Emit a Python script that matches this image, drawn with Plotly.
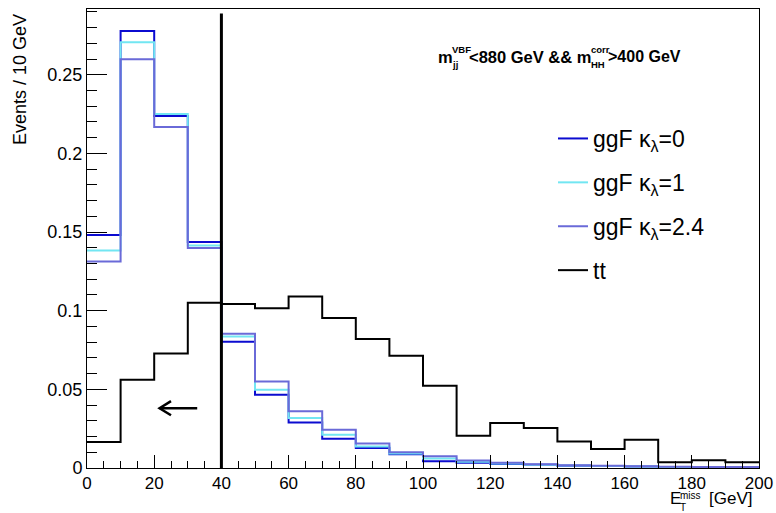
import plotly.graph_objects as go

# ---------------- data ----------------
bin_edges = list(range(0, 210, 10))
ggF_k0 = [0.1482, 0.2778, 0.2238, 0.1436, 0.0802, 0.0466, 0.0290, 0.0186, 0.0127, 0.0088,
          0.0043, 0.0033, 0.0026, 0.0020, 0.0015, 0.0012, 0.0010, 0.0007, 0.0006, 0.0005]
ggF_k1 = [0.1383, 0.2706, 0.2251, 0.1415, 0.0836, 0.0497, 0.0318, 0.0212, 0.0137, 0.0092,
          0.0060, 0.0040, 0.0028, 0.0021, 0.0016, 0.0012, 0.0010, 0.0007, 0.0006, 0.0005]
ggF_k24 = [0.1313, 0.2598, 0.2168, 0.1398, 0.0853, 0.0550, 0.0360, 0.0243, 0.0155, 0.0100,
           0.0075, 0.0048, 0.0034, 0.0024, 0.0018, 0.0014, 0.0011, 0.0008, 0.0007, 0.0006]
tt = [0.0165, 0.0561, 0.0728, 0.1050, 0.1042, 0.1016, 0.1090, 0.0953, 0.0820, 0.0713,
      0.0523, 0.0205, 0.0286, 0.0254, 0.0169, 0.0121, 0.0180, 0.0036, 0.0050, 0.0037]
series_names = ["ggF κ<sub>λ</sub>=0", "ggF κ<sub>λ</sub>=1", "ggF κ<sub>λ</sub>=2.4", "tt"]
series_colors = ["#0b0bd0", "#72e6f2", "#6a6ad8", "#000000"]
cut_value = 40
x_ticks = [0, 20, 40, 60, 80, 100, 120, 140, 160, 180, 200]

W, H = 776, 513
L, R, T, B = 87, 759, 9, 468
FONT = "Liberation Sans, Arial, Helvetica, sans-serif"


def pxx(p):
    return (p - L) / (R - L)


def pxy(p):
    return (B - p) / (B - T)


def step_xy(vals):
    xs = bin_edges[:-1] + [bin_edges[-1]]
    ys = list(vals) + [vals[-1]]
    return xs, ys


fig = go.Figure()
for vals, name, col in zip([ggF_k0, ggF_k1, ggF_k24, tt], series_names, series_colors):
    xs, ys = step_xy(vals)
    fig.add_trace(go.Scatter(x=xs, y=ys, mode="lines", line=dict(shape="hv", color=col, width=2),
                             name=name, legendgroup=name))

# cut line
fig.add_shape(type="line", xref="x", yref="y", x0=cut_value, x1=cut_value, y0=0, y1=0.289,
              line=dict(color="black", width=3))
# arrow (pointing left)
ay = 0.038
fig.add_shape(type="line", xref="x", yref="y", x0=32.8, x1=21.6, y0=ay, y1=ay,
              line=dict(color="black", width=2.5))
fig.add_shape(type="path", xref="x", yref="y",
              path=f"M 25.0 {ay+0.0045} L 21.6 {ay} L 25.0 {ay-0.0045}",
              line=dict(color="black", width=2.5))

ann = []


def text(s, xp, yp, size, bold=False, angle=0, xanchor="left"):
    if bold:
        s = "<b>" + s + "</b>"
    ann.append(dict(text=s, x=pxx(xp), y=pxy(yp), xref="paper", yref="paper", showarrow=False,
                    xanchor=xanchor, yanchor="middle", textangle=angle,
                    font=dict(family=FONT, size=size, color="black")))


# cut text
text("m", 436, 57, 16.5, True)
text("VBF", 450, 50, 9.5, True)
text("jj", 450, 64, 9.5, True)
text("&lt;880 GeV &amp;&amp; m", 467, 57, 16.5, True)
text("corr", 589, 50, 9.5, True)
text("HH", 589, 64, 9.5, True)
text("&gt;400 GeV", 606, 57, 16, True)

# axis titles
text("E", 668, 499, 17)
text("miss", 678, 496, 10)
text("T", 678, 507.5, 10)
text("[GeV]", 707, 499, 17)
text("Events / 10 GeV", 20, 80, 18, angle=-90, xanchor="center")

fig.update_layout(
    width=W, height=H,
    margin=dict(l=L, r=W - R, t=T, b=H - B, autoexpand=False),
    paper_bgcolor="white", plot_bgcolor="white",
    showlegend=True,
    legend=dict(x=pxx(553), y=pxy(117), xanchor="left", yanchor="top",
                font=dict(family=FONT, size=23, color="black"),
                bgcolor="rgba(0,0,0,0)", itemwidth=30, tracegroupgap=11,
                traceorder="grouped"),
    annotations=ann,
    font=dict(family=FONT, color="black"),
)
fig.update_xaxes(range=[0, 200], tickvals=x_ticks, ticks="inside", ticklen=13, tickwidth=1,
                 tickcolor="black", showline=True, linecolor="black", linewidth=1, mirror=True,
                 showgrid=False, zeroline=False, automargin=False,
                 tickfont=dict(family=FONT, size=17, color="black"),
                 minor=dict(dtick=5, ticks="inside", ticklen=7, tickcolor="black", showgrid=False))
fig.update_yaxes(range=[0, 0.2918], dtick=0.05, tick0=0, ticks="inside", ticklen=20, tickwidth=1,
                 tickcolor="black", showline=True, linecolor="black", linewidth=1, mirror=True,
                 showgrid=False, zeroline=False, automargin=False,
                 tickfont=dict(family=FONT, size=18, color="black"),
                 minor=dict(dtick=0.01, ticks="inside", ticklen=10, tickcolor="black", showgrid=False))

fig.write_html("out.html")
